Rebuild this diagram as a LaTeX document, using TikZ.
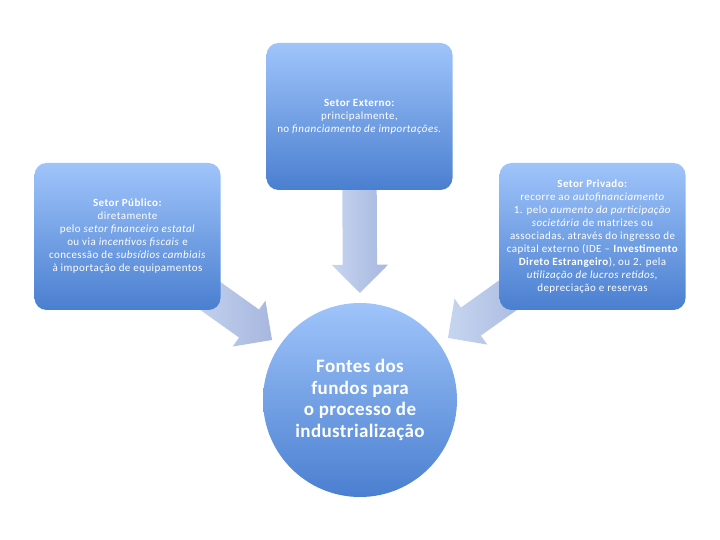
\documentclass[tikz,border=0pt]{standalone}
\usepackage{fontspec}
\setmainfont{Carlito}
\usetikzlibrary{calc,shapes.arrows,backgrounds}

\definecolor{caixaclara}{HTML}{9FC4FA}
\definecolor{caixaescura}{HTML}{4A7FD0}
\definecolor{setaclara}{HTML}{C6D5EF}
\definecolor{setaescura}{HTML}{A7B7DF}

\tikzset{
  setorbox/.style={rectangle, rounded corners=12pt, minimum width=186pt, minimum height=147pt,
    top color=caixaclara, bottom color=caixaescura, text=white, align=center, inner sep=0pt,
    font=\fontsize{11}{13}\selectfont\addfontfeatures{LetterSpace=4}},
  fontesnode/.style={circle, minimum size=194pt, inner sep=0pt,
    top color=caixaclara, bottom color=caixaescura, text=white, align=center,
    font=\fontsize{19}{21.7}\selectfont\bfseries\addfontfeatures{LetterSpace=2}},
  blockarrow/.style={single arrow, single arrow head extend=11pt, single arrow tip angle=90,
    inner xsep=0pt, inner ysep=17pt, left color=setaclara, right color=setaescura, draw=none}
}

\begin{document}
\begin{tikzpicture}[x=1pt,y=1pt]
  \useasboundingbox (0,0) rectangle (720,540);

  % caixas dos setores
  \node[setorbox] (externo) at (359.5,423.5) {\textbf{Setor Externo:}\\ principalmente,\\ no \textit{financiamento de importações.}};
  \node[setorbox] (publico) at (127.5,303.5) {\textbf{Setor Público:}\\ diretamente\\ pelo \textit{setor financeiro estatal}\\ ou via \textit{incentivos fiscais} e\\ concessão de \textit{subsídios cambiais}\\ à importação de equipamentos};
  \node[setorbox] (privado) at (592.5,303.5) {\textbf{Setor Privado:}\\ recorre ao \textit{autofinanciamento}\\ 1. pelo \textit{aumento da participação}\\ \textit{societária} de matrizes ou\\ associadas, através do ingresso de\\ capital externo (IDE -- \textbf{Investimento}\\ \textbf{Direto Estrangeiro}), ou 2. pela\\ \textit{utilização de lucros retidos,}\\ depreciação e reservas};

  % circulo central
  \node[fontesnode] (fontes) at (360,140) {Fontes dos\\ fundos para\\ o processo de\\ industrialização};

  % pontas e caudas das setas
  \coordinate (cauda1) at ($(externo.south)+(0,5)$);
  \coordinate (ponta1) at ($(fontes.north)+(0,10)$);
  \coordinate (cauda2) at ($(publico.center)+(67.5,-48.5)$);
  \coordinate (ponta2) at ($(fontes.center)+(145.7:106.5)$);
  \coordinate (cauda3) at ($(privado.center)+(-67.5,-46.5)$);
  \coordinate (ponta3) at ($(fontes.center)+(35.2:107.6)$);

  % setas
  \begin{pgfonlayer}{background}
    \foreach \i in {1,2,3}{
      \path let \p1=($(ponta\i)-(cauda\i)$), \n1={atan2(\y1,\x1)}, \n2={veclen(\x1,\y1)} in
        node[blockarrow, minimum height=\n2, rotate=\n1, anchor=tail] (seta\i) at (cauda\i) {};
    }
  \end{pgfonlayer}
\end{tikzpicture}
\end{document}
